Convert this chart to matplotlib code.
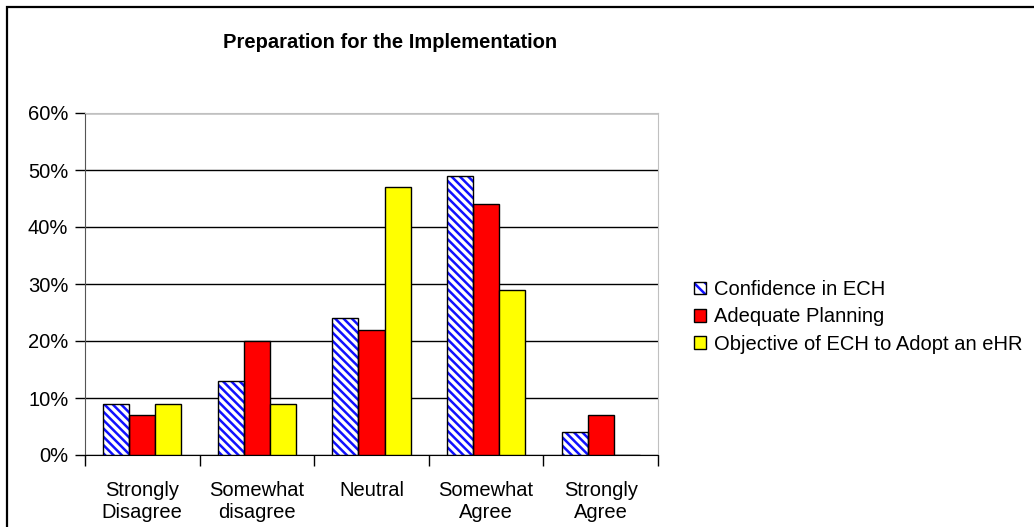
import matplotlib.pyplot as plt
import numpy as np
from matplotlib.patches import Patch, Rectangle
from matplotlib.legend_handler import HandlerTuple
from matplotlib.ticker import PercentFormatter

plt.rcParams["font.family"] = ["Liberation Sans", "DejaVu Sans"]
plt.rcParams["hatch.linewidth"] = 1.8

# ── data ──────────────────────────────────────────────────────────────────────
categories = ["Strongly\nDisagree", "Somewhat\ndisagree", "Neutral",
              "Somewhat\nAgree", "Strongly\nAgree"]
confidence = [9, 13, 24, 49, 4]
planning   = [7, 20, 22, 44, 7]
objective  = [9, 9, 47, 29, 0]
series_names = ["Confidence in ECH", "Adequate Planning",
                "Objective of ECH to Adopt an eHR"]

W, H = 1034, 527
FS = 14.5
fig = plt.figure(figsize=(W / 100, H / 100), dpi=100)

# outer chart frame (runs off the right/bottom edges)
fig.patches.append(Rectangle((7 / W, -0.05), 1.1, 1 - 6.5 / H + 0.05,
                             transform=fig.transFigure, fill=False,
                             edgecolor="black", linewidth=1.6))

ax = fig.add_axes([85 / W, 1 - 455 / H, (658 - 85) / W, (455 - 113) / H])

x = np.arange(len(categories))
bw = 0.227
STRIPES = "\\\\\\\\"

# hatched series: stripes first, then black outline on top
ax.bar(x - bw, confidence, bw, facecolor="white", edgecolor="#1010ff",
       hatch=STRIPES, linewidth=0, zorder=3)
ax.bar(x - bw, confidence, bw, fill=False, edgecolor="black",
       linewidth=1.0, zorder=4)
ax.bar(x, planning, bw, color="#ff0000", edgecolor="black", linewidth=1.0,
       zorder=3)
ax.bar(x + bw, objective, bw, color="#ffff00", edgecolor="black",
       linewidth=1.0, zorder=3)

ax.set_xlim(-0.5, len(categories) - 0.5)
ax.set_ylim(0, 60)
ax.set_yticks(range(0, 61, 10))
ax.yaxis.set_major_formatter(PercentFormatter(decimals=0))
ax.grid(axis="y", color="black", linewidth=1.0, zorder=0)

ax.set_xticks(np.arange(-0.5, len(categories), 1.0))
ax.set_xticklabels([])
ax.set_xticks(x, minor=True)
ax.set_xticklabels(categories, minor=True, fontsize=FS, linespacing=1.2)
ax.tick_params(axis="x", which="minor", length=0, pad=19)
ax.tick_params(axis="x", which="major", length=8, width=1, color="black")
ax.tick_params(axis="y", length=7, width=1, labelsize=FS, pad=5)

for side in ("top", "right"):
    ax.spines[side].set_color("#c0c0c0")
ax.spines["left"].set_color("#555555")
ax.spines["bottom"].set_color("black")

fig.text(390 / W, 1 - 42 / H, "Preparation for the Implementation",
         ha="center", va="center", fontsize=FS, fontweight="bold")

# legend with small square keys
h_conf = (Patch(facecolor="white", edgecolor="#1010ff", hatch="\\\\\\",
                linewidth=0),
          Patch(fill=False, edgecolor="black", linewidth=1.0))
h_plan = Patch(facecolor="#ff0000", edgecolor="black", linewidth=1.0)
h_obj = Patch(facecolor="#ffff00", edgecolor="black", linewidth=1.0)
fig.legend([h_conf, h_plan, h_obj], series_names,
           handler_map={tuple: HandlerTuple(ndivide=1, pad=0)},
           loc="center left", bbox_to_anchor=(686 / W, 1 - 317 / H),
           frameon=False, fontsize=FS, handlelength=0.6, handleheight=0.6,
           handletextpad=0.4, labelspacing=0.42, borderaxespad=0)

fig.savefig("out.png", dpi=100)
